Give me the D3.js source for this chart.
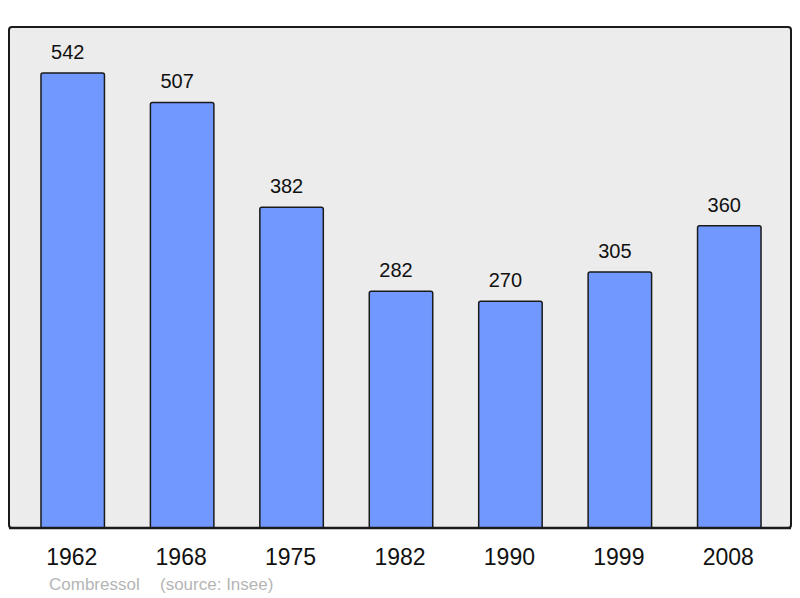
<!DOCTYPE html>
<html>
<head>
<meta charset="utf-8">
<script src="https://cdn.jsdelivr.net/npm/d3@7"></script>
<style>
  body { margin: 0; background: #fff; }
  text { font-family: "Liberation Sans", Arial, sans-serif; }
</style>
</head>
<body>
<div id="chart"></div>
<script>
var years = ['1962', '1968', '1975', '1982', '1990', '1999', '2008']
var population = [542, 507, 382, 282, 270, 305, 360]
var town = 'Combressol'
var source = '(source: Insee)'

var width = 800,
    height = 598

var svg = d3.select('#chart').append('svg')
    .attr('width', width)
    .attr('height', height)

// background panel
svg.append('rect')
    .attr('x', 9)
    .attr('y', 27)
    .attr('width', 782)
    .attr('height', 501)
    .attr('rx', 3)
    .attr('fill', '#ececec')
    .attr('stroke', '#1a1a1a')
    .attr('stroke-width', 2)

var x = d3.scaleBand()
    .domain(years)
    .range([18, 784])
    .paddingInner(0.42)
    .paddingOuter(0.21)

var y = d3.scaleLinear()
    .domain([0, 542])
    .range([528, 73])

var bars = svg.selectAll('g.bar')
    .data(years)
    .enter().append('g')
        .attr('class', 'bar')

bars.append('path')
    .attr('d', function(d, i) {
        var x0 = x(d), x1 = x(d) + x.bandwidth(), y0 = y(population[i]), y1 = y(0), r = 2
        return 'M' + x0 + ',' + y1 + 'V' + (y0 + r) + 'Q' + x0 + ',' + y0 + ' ' + (x0 + r) + ',' + y0 +
            'H' + (x1 - r) + 'Q' + x1 + ',' + y0 + ' ' + x1 + ',' + (y0 + r) + 'V' + y1
    })
    .attr('fill', '#7098ff')
    .attr('stroke', '#1a1a1a')
    .attr('stroke-width', 1.5)

bars.append('text')
    .text(function(d, i) { return population[i] })
    .attr('x', function(d) { return x(d) + x.bandwidth() / 2 - 5 })
    .attr('y', function(d, i) { return y(population[i]) - 14 })
    .attr('text-anchor', 'middle')
    .attr('font-size', 20)
    .attr('fill', '#111')

// redraw panel bottom line over the bars
svg.append('line')
    .attr('x1', 9).attr('x2', 791)
    .attr('y1', 528).attr('y2', 528)
    .attr('stroke', '#1a1a1a')
    .attr('stroke-width', 2.5)

svg.append('g').selectAll('text')
    .data(years)
    .enter().append('text')
        .text(function(d) { return d })
        .attr('x', function(d) { return x(d) + x.bandwidth() / 2 - 1 })
        .attr('y', 565)
        .attr('text-anchor', 'middle')
        .attr('font-size', 23)
        .attr('fill', '#111')

svg.append('text')
    .text(town)
    .attr('x', 49)
    .attr('y', 590)
    .attr('font-size', 17)
    .attr('fill', '#b5b5b5')

svg.append('text')
    .text(source)
    .attr('x', 160)
    .attr('y', 590)
    .attr('font-size', 17)
    .attr('fill', '#b5b5b5')
</script>
</body>
</html>
